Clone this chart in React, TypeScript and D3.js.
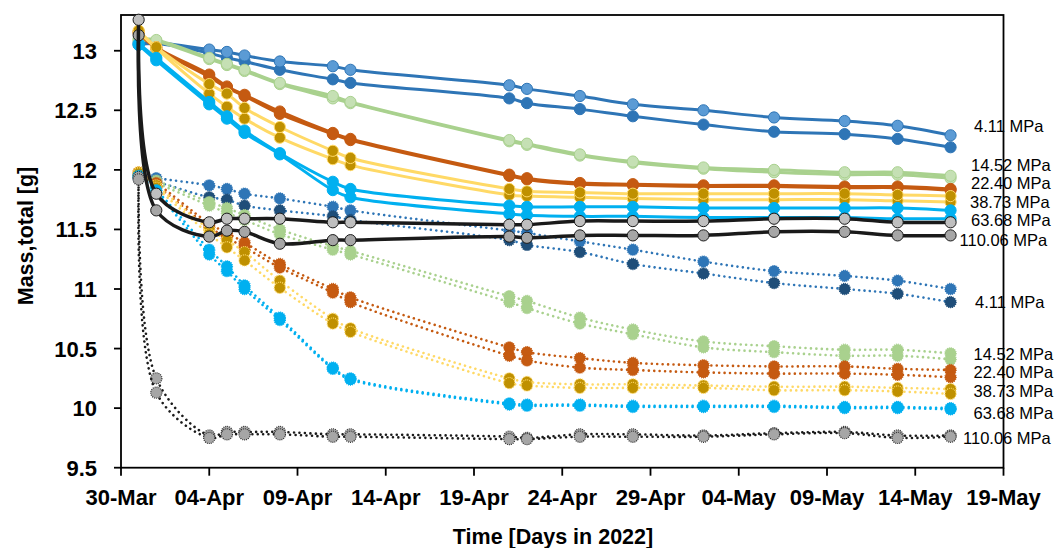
import React from "react";
import * as d3 from "d3";

// ---------- data ----------
const dates = [
  "2022-03-31", "2022-04-01", "2022-04-04", "2022-04-05", "2022-04-06", "2022-04-08",
  "2022-04-11", "2022-04-12", "2022-04-21", "2022-04-22", "2022-04-25", "2022-04-28",
  "2022-05-02", "2022-05-06", "2022-05-10", "2022-05-13", "2022-05-16",
];

const xTickDates = [
  "2022-03-30", "2022-04-04", "2022-04-09", "2022-04-14", "2022-04-19", "2022-04-24",
  "2022-04-29", "2022-05-04", "2022-05-09", "2022-05-14", "2022-05-19",
];
const yTicks = [9.5, 10, 10.5, 11, 11.5, 12, 12.5, 13];

// solid group (upper)
const solid411a = [13.07, 13.07, 13.01, 12.99, 12.96, 12.91, 12.87, 12.84, 12.71, 12.68, 12.62, 12.55, 12.50, 12.44, 12.41, 12.37, 12.29];
const solid411b = [13.05, 13.06, 12.98, 12.94, 12.91, 12.84, 12.76, 12.73, 12.60, 12.56, 12.51, 12.45, 12.38, 12.32, 12.30, 12.26, 12.19];
const solid1452a = [13.10, 13.09, 12.94, 12.89, 12.84, 12.73, 12.62, 12.57, 12.25, 12.22, 12.13, 12.07, 12.02, 12.00, 11.98, 11.98, 11.95];
const solid1452b = [13.09, 13.08, 12.93, 12.88, 12.83, 12.72, 12.60, 12.56, 12.24, 12.21, 12.12, 12.06, 12.01, 11.98, 11.96, 11.96, 11.93];
const solid2240a = [13.16, 13.03, 12.80, 12.70, 12.63, 12.49, 12.31, 12.26, 11.96, 11.93, 11.89, 11.88, 11.87, 11.87, 11.86, 11.86, 11.84];
const solid2240b = [13.15, 13.02, 12.78, 12.69, 12.62, 12.47, 12.30, 12.25, 11.95, 11.92, 11.88, 11.87, 11.86, 11.86, 11.85, 11.85, 11.83];
const solid3873a = [13.17, 13.03, 12.72, 12.64, 12.52, 12.36, 12.16, 12.10, 11.84, 11.82, 11.81, 11.80, 11.80, 11.80, 11.80, 11.79, 11.78];
const solid3873b = [13.16, 13.02, 12.64, 12.53, 12.43, 12.27, 12.09, 12.04, 11.79, 11.78, 11.77, 11.76, 11.75, 11.75, 11.75, 11.74, 11.73];
const solid6368a = [13.06, 12.94, 12.57, 12.45, 12.33, 12.14, 11.90, 11.84, 11.70, 11.69, 11.69, 11.69, 11.68, 11.68, 11.68, 11.68, 11.66];
const solid6368b = [13.05, 12.92, 12.55, 12.43, 12.31, 12.13, 11.83, 11.77, 11.63, 11.62, 11.61, 11.61, 11.60, 11.60, 11.60, 11.59, 11.59];
const solid11006a = [13.26, 11.80, 11.56, 11.59, 11.59, 11.59, 11.56, 11.56, 11.54, 11.54, 11.57, 11.57, 11.57, 11.59, 11.59, 11.56, 11.56];
const solid11006b = [13.13, 11.66, 11.44, 11.49, 11.48, 11.38, 11.41, 11.41, 11.44, 11.43, 11.45, 11.45, 11.45, 11.48, 11.48, 11.45, 11.45];

// dotted group (lower)
const dot411a = [11.95, 11.93, 11.87, 11.84, 11.80, 11.76, 11.69, 11.66, 11.49, 11.47, 11.40, 11.33, 11.23, 11.15, 11.11, 11.07, 11.00];
const dot411b = [11.93, 11.90, 11.77, 11.75, 11.70, 11.66, 11.61, 11.58, 11.41, 11.37, 11.31, 11.21, 11.13, 11.05, 11.00, 10.96, 10.89];
const dot1452a = [11.96, 11.91, 11.73, 11.68, 11.62, 11.50, 11.36, 11.32, 10.94, 10.90, 10.76, 10.66, 10.56, 10.52, 10.49, 10.49, 10.46];
const dot1452b = [11.95, 11.89, 11.70, 11.64, 11.58, 11.46, 11.33, 11.29, 10.89, 10.84, 10.71, 10.62, 10.51, 10.47, 10.44, 10.44, 10.41];
const dot2240a = [11.98, 11.89, 11.55, 11.47, 11.39, 11.21, 11.00, 10.93, 10.51, 10.47, 10.42, 10.38, 10.36, 10.35, 10.35, 10.33, 10.32];
const dot2240b = [11.97, 11.87, 11.52, 11.43, 11.35, 11.18, 10.97, 10.89, 10.44, 10.40, 10.34, 10.32, 10.30, 10.29, 10.29, 10.28, 10.26];
const dot3873a = [11.98, 11.87, 11.50, 11.41, 11.31, 11.07, 10.75, 10.67, 10.25, 10.22, 10.20, 10.20, 10.19, 10.18, 10.18, 10.17, 10.16];
const dot3873b = [11.97, 11.85, 11.46, 11.35, 11.24, 11.01, 10.71, 10.64, 10.21, 10.19, 10.17, 10.17, 10.17, 10.15, 10.15, 10.14, 10.12];
const dot6368a = [11.95, 11.83, 11.33, 11.19, 11.03, 10.76, 10.34, 10.25, 10.04, 10.03, 10.03, 10.02, 10.02, 10.02, 10.01, 10.01, 10.00];
const dot6368b = [11.94, 11.81, 11.29, 11.15, 11.00, 10.74, 10.33, 10.24, 10.03, 10.02, 10.02, 10.01, 10.01, 10.01, 10.00, 10.00, 9.99];
const dot11006a = [11.94, 10.25, 9.77, 9.80, 9.80, 9.80, 9.78, 9.78, 9.76, 9.75, 9.78, 9.78, 9.77, 9.79, 9.80, 9.77, 9.77];
const dot11006b = [11.92, 10.13, 9.75, 9.78, 9.78, 9.78, 9.76, 9.76, 9.74, 9.74, 9.76, 9.76, 9.76, 9.78, 9.79, 9.75, 9.76];

const pressureLabels = ["4.11 MPa", "14.52 MPa", "22.40 MPa", "38.73 MPa", "63.68 MPa", "110.06 MPa"];
const solidLabelValues = [12.36, 12.04, 11.885, 11.725, 11.575, 11.41];
const dottedLabelValues = [10.89, 10.45, 10.295, 10.14, 9.955, 9.745];

// ---------- styles ----------
const W = 1061, H = 548;
const plot = { left: 121, right: 1003.5, top: 15, bottom: 467.7 };
const FONT = "'Liberation Sans', Arial, sans-serif";

type S = { values: number[]; line: string; fill: string; stroke: string; dotted: boolean; lw: number };

const dottedSeries: S[] = [
  { values: dot411a, line: "#2E75B6", fill: "#2E75B6", stroke: "#2E75B6", dotted: true, lw: 2.6 },
  { values: dot411b, line: "#2E75B6", fill: "#1F4E79", stroke: "#1F4E79", dotted: true, lw: 2.6 },
  { values: dot1452a, line: "#A9D18E", fill: "#A9D18E", stroke: "#A9D18E", dotted: true, lw: 2.6 },
  { values: dot1452b, line: "#A9D18E", fill: "#A9D18E", stroke: "#A9D18E", dotted: true, lw: 2.6 },
  { values: dot2240a, line: "#C55A11", fill: "#C55A11", stroke: "#C55A11", dotted: true, lw: 2.6 },
  { values: dot2240b, line: "#C55A11", fill: "#C55A11", stroke: "#C55A11", dotted: true, lw: 2.6 },
  { values: dot3873a, line: "#FFD966", fill: "#BF9000", stroke: "#FFD966", dotted: true, lw: 2.6 },
  { values: dot3873b, line: "#FFD966", fill: "#BF9000", stroke: "#FFD966", dotted: true, lw: 2.6 },
  { values: dot6368a, line: "#00B0F0", fill: "#00B0F0", stroke: "#00B0F0", dotted: true, lw: 2.6 },
  { values: dot6368b, line: "#00B0F0", fill: "#00B0F0", stroke: "#00B0F0", dotted: true, lw: 2.6 },
  { values: dot11006a, line: "#1A1A1A", fill: "#A6A6A6", stroke: "#333333", dotted: true, lw: 2.6 },
  { values: dot11006b, line: "#1A1A1A", fill: "#A6A6A6", stroke: "#333333", dotted: true, lw: 2.6 },
];

const solidSeries: S[] = [
  { values: solid411b, line: "#2E75B6", fill: "#2E75B6", stroke: "#2E75B6", dotted: false, lw: 3 },
  { values: solid411a, line: "#2E75B6", fill: "#5B9BD5", stroke: "#2E75B6", dotted: false, lw: 3 },
  { values: solid1452b, line: "#A9D18E", fill: "#C5E0B4", stroke: "#A9D18E", dotted: false, lw: 3 },
  { values: solid1452a, line: "#A9D18E", fill: "#C5E0B4", stroke: "#A9D18E", dotted: false, lw: 3 },
  { values: solid2240b, line: "#C55A11", fill: "#C55A11", stroke: "#C55A11", dotted: false, lw: 3 },
  { values: solid2240a, line: "#C55A11", fill: "#C55A11", stroke: "#C55A11", dotted: false, lw: 3 },
  { values: solid3873b, line: "#FFD966", fill: "#BF9000", stroke: "#FFD966", dotted: false, lw: 3 },
  { values: solid3873a, line: "#FFD966", fill: "#BF9000", stroke: "#FFD966", dotted: false, lw: 3 },
  { values: solid6368b, line: "#00B0F0", fill: "#00B0F0", stroke: "#00B0F0", dotted: false, lw: 3 },
  { values: solid6368a, line: "#00B0F0", fill: "#00B0F0", stroke: "#00B0F0", dotted: false, lw: 3 },
  { values: solid11006b, line: "#1A1A1A", fill: "#A6A6A6", stroke: "#1A1A1A", dotted: false, lw: 3.5 },
  { values: solid11006a, line: "#1A1A1A", fill: "#BFBFBF", stroke: "#1A1A1A", dotted: false, lw: 3.5 },
];

const solidLabelX = [974, 971, 971, 970, 971, 959.5];
const dottedLabelX = [975, 973.5, 973.5, 973.5, 973.5, 963];

export default function App() {
  const parse = d3.utcParse("%Y-%m-%d");
  const xDates = dates.map((d) => parse(d) as Date);
  const x = d3
    .scaleUtc()
    .domain([parse("2022-03-30") as Date, parse("2022-05-19") as Date])
    .range([plot.left, plot.right]);
  const y = d3.scaleLinear().domain([9.5, 13.3]).range([plot.bottom, plot.top]);
  const fmt = d3.utcFormat("%d-%b");

  const line = d3
    .line<number>()
    .x((_, i) => x(xDates[i]))
    .y((v) => y(v))
    .curve(d3.curveCatmullRom.alpha(0.5));

  const renderSeries = (s: S, k: string) => (
    <g key={k}>
      <path
        d={line(s.values) || ""}
        fill="none"
        stroke={s.line}
        strokeWidth={s.lw}
        strokeLinecap="round"
        strokeLinejoin="round"
        strokeDasharray={s.dotted ? "0.01 5.4" : undefined}
      />
      {s.values.map((v, i) => (
        <circle
          key={i}
          cx={x(xDates[i])}
          cy={y(v)}
          r={5.6}
          fill={s.fill}
          stroke={s.stroke}
          strokeWidth={s.dotted ? 1.2 : 1}
          strokeDasharray={s.dotted ? "1 1" : undefined}
        />
      ))}
    </g>
  );

  return (
    <svg
      width={W}
      height={H}
      style={{ position: "absolute", left: 0, top: 0, background: "#fff" }}
      fontFamily={FONT}
    >
      <rect x={0} y={0} width={W} height={H} fill="#fff" />
      {/* plot frame */}
      <rect
        x={plot.left}
        y={plot.top}
        width={plot.right - plot.left}
        height={plot.bottom - plot.top}
        fill="none"
        stroke="#000"
        strokeWidth={1.8}
      />
      {/* y ticks */}
      {yTicks.map((t) => (
        <g key={t}>
          <line x1={plot.left - 7} x2={plot.left} y1={y(t)} y2={y(t)} stroke="#000" strokeWidth={1.8} />
          <text x={97} y={y(t) + 8} textAnchor="end" fontSize={22} fontWeight="bold" fill="#000">
            {String(t)}
          </text>
        </g>
      ))}
      {/* x ticks */}
      {xTickDates.map((d) => {
        const dt = parse(d) as Date;
        return (
          <g key={d}>
            <line x1={x(dt)} x2={x(dt)} y1={plot.bottom} y2={plot.bottom + 8} stroke="#000" strokeWidth={1.8} />
            <text x={x(dt)} y={505} textAnchor="middle" fontSize={22} fontWeight="bold" fill="#000">
              {fmt(dt)}
            </text>
          </g>
        );
      })}
      {/* axis titles */}
      <text x={553} y={544} textAnchor="middle" fontSize={21.5} fontWeight="bold" fill="#000">
        Time [Days in 2022]
      </text>
      <text
        transform={`translate(33,236) rotate(-90)`}
        textAnchor="middle"
        fontSize={21.5}
        fontWeight="bold"
        fill="#000"
      >
        Mass,total [g]
      </text>

      {dottedSeries.map((s, i) => renderSeries(s, "d" + i))}
      {solidSeries.map((s, i) => renderSeries(s, "s" + i))}

      {/* pressure labels */}
      {pressureLabels.map((t, i) => (
        <text key={"sl" + i} x={solidLabelX[i]} y={y(solidLabelValues[i]) + 5.5} fontSize={16.5} fill="#000">
          {t}
        </text>
      ))}
      {pressureLabels.map((t, i) => (
        <text key={"dl" + i} x={dottedLabelX[i]} y={y(dottedLabelValues[i]) + 5.5} fontSize={16.5} fill="#000">
          {t}
        </text>
      ))}
    </svg>
  );
}
